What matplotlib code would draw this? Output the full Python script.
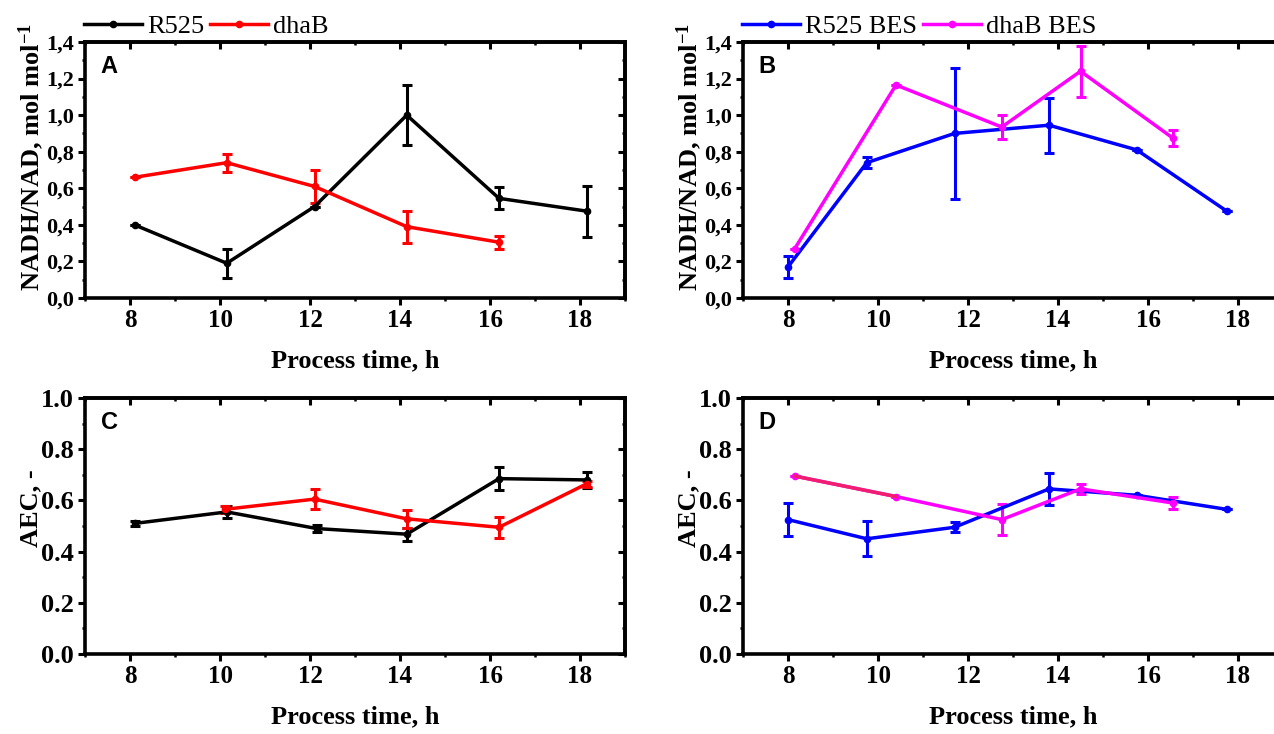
import matplotlib

matplotlib.use("Agg")
import matplotlib.pyplot as plt
from matplotlib.lines import Line2D
from matplotlib.ticker import MultipleLocator

plt.rcParams["font.family"] = "Liberation Serif"
plt.rcParams["font.weight"] = "bold"
plt.rcParams["mathtext.fontset"] = "custom"
plt.rcParams["mathtext.rm"] = "Liberation Serif:bold"
plt.rcParams["mathtext.default"] = "rm"

# NADH/NAD ratio, flask cultures
a_r525_t = [8.1, 10.15, 12.1, 14.15, 16.2, 18.15]
a_r525_y = [0.40, 0.19, 0.50, 1.00, 0.545, 0.475]
a_r525_e = [0.0, 0.078, 0.0, 0.163, 0.06, 0.14]
a_dhab_t = [8.1, 10.15, 12.1, 14.15, 16.2]
a_dhab_y = [0.66, 0.74, 0.61, 0.39, 0.305]
a_dhab_e = [0.0, 0.05, 0.088, 0.088, 0.035]

# NADH/NAD ratio, BES runs
b_r525_t = [8.0, 9.75, 11.7, 13.8, 15.75, 17.75]
b_r525_y = [0.17, 0.74, 0.90, 0.945, 0.81, 0.475]
b_r525_e = [0.06, 0.03, 0.36, 0.15, 0.0, 0.0]
b_dhab_t = [8.15, 10.4, 12.75, 14.5, 16.55]
b_dhab_y = [0.27, 1.165, 0.935, 1.24, 0.875]
b_dhab_e = [0.0, 0.0, 0.065, 0.14, 0.045]

# adenylate energy charge, flask cultures
c_r525_t = [8.1, 10.15, 12.15, 14.15, 16.2, 18.15]
c_r525_y = [0.51, 0.555, 0.49, 0.468, 0.685, 0.68]
c_r525_e = [0.01, 0.025, 0.015, 0.025, 0.045, 0.03]
c_dhab_t = [10.1, 12.1, 14.15, 16.2, 18.15]
c_dhab_y = [0.565, 0.605, 0.528, 0.495, 0.665]
c_dhab_e = [0.015, 0.04, 0.035, 0.04, 0.012]

# adenylate energy charge, BES runs
d_r525_t = [8.0, 9.75, 11.7, 13.8, 15.75, 17.75]
d_r525_y = [0.525, 0.45, 0.495, 0.645, 0.62, 0.565]
d_r525_e = [0.065, 0.068, 0.02, 0.062, 0.0, 0.0]
d_dhab_t = [8.15, 10.4, 12.75, 14.5, 16.55]
d_dhab_y = [0.695, 0.615, 0.525, 0.645, 0.59]
d_dhab_e = [0.0, 0.0, 0.06, 0.02, 0.025]

xticks = [8, 10, 12, 14, 16, 18]
ratio_ticks = [0.0, 0.2, 0.4, 0.6, 0.8, 1.0, 1.2, 1.4]
ratio_labels = ["0,0", "0,2", "0,4", "0,6", "0,8", "1,0", "1,2", "1,4"]
aec_ticks = [0.0, 0.2, 0.4, 0.6, 0.8, 1.0]
aec_labels = ["0.0", "0.2", "0.4", "0.6", "0.8", "1.0"]

W, H = 1274, 734
fig = plt.figure(figsize=(W / 100, H / 100), dpi=100)


def box(l, r, t, b):
    return [l / W, 1 - b / H, (r - l) / W, (b - t) / H]


axA = fig.add_axes(box(85, 625, 42, 298))
axB = fig.add_axes(box(743, 1283, 42, 298))
axC = fig.add_axes(box(85, 625, 398, 654))
axD = fig.add_axes(box(743, 1283, 398, 654))

LW = 2.5
MS = 4.5


def series(ax, t, y, e, color):
    ax.errorbar(t, y, yerr=e, color=color, lw=LW, marker="o", ms=MS,
                capsize=3.5, capthick=2.2, elinewidth=2.2)


def style(ax, letter, yt, yl, ylabel, ysize, ylab_size, ylab_y):
    ax.set_xlim(7, 19)
    ax.set_ylim(yt[0], yt[-1])
    ax.set_xticks(xticks)
    ax.set_xticklabels([str(v) for v in xticks], fontsize=18)
    ax.set_yticks(yt)
    ax.set_yticklabels(yl, fontsize=ysize)
    ax.xaxis.set_minor_locator(MultipleLocator(1))
    ax.yaxis.set_minor_locator(MultipleLocator(0.1))
    ax.tick_params(which="major", direction="out", length=5, width=2.2, pad=3)
    ax.tick_params(which="minor", direction="out", length=2.5, width=1.8)
    for s in ax.spines.values():
        s.set_linewidth(2.6)
    # mirrored ticks on top and right point inwards
    top = ax.secondary_xaxis("top")
    top.set_xticks(xticks)
    top.xaxis.set_minor_locator(MultipleLocator(1))
    top.tick_params(which="major", direction="in", length=5, width=2.2, labeltop=False)
    top.tick_params(which="minor", direction="in", length=2.5, width=1.8)
    top.spines["top"].set_linewidth(2.6)
    right = ax.secondary_yaxis("right")
    right.set_yticks(yt)
    right.yaxis.set_minor_locator(MultipleLocator(0.1))
    right.tick_params(which="major", direction="in", length=5, width=2.2, labelright=False)
    right.tick_params(which="minor", direction="in", length=2.5, width=1.8)
    right.spines["right"].set_linewidth(2.6)
    ax.set_xlabel("Process time, h", fontsize=19, fontweight="bold", va="top")
    ax.xaxis.set_label_coords(0.5, -0.2)
    ax.set_ylabel(ylabel, fontsize=ylab_size, fontweight="bold", va="center")
    ax.yaxis.set_label_coords(-0.1, ylab_y)
    ax.text(0.045, 0.905, letter, transform=ax.transAxes, family="Liberation Sans",
            fontsize=17, fontweight="bold", ha="center", va="center")


def legend(ax, names, colors):
    handles = [Line2D([], [], color=c, lw=LW, marker="o", ms=MS) for c in colors]
    ax.legend(handles, names, loc="lower left", bbox_to_anchor=(-0.002, 1.015), ncol=2,
              frameon=False, borderpad=0, borderaxespad=0, handlelength=2.2,
              handletextpad=0.2, columnspacing=0.2,
              prop={"family": "Liberation Serif", "size": 19, "weight": "normal"})


series(axA, a_r525_t, a_r525_y, a_r525_e, "black")
series(axA, a_dhab_t, a_dhab_y, a_dhab_e, "#ff0000")
series(axB, b_r525_t, b_r525_y, b_r525_e, "#0000ff")
series(axB, b_dhab_t, b_dhab_y, b_dhab_e, "#ff00ff")
series(axC, c_r525_t, c_r525_y, c_r525_e, "black")
series(axC, c_dhab_t, c_dhab_y, c_dhab_e, "#ff0000")
series(axD, d_r525_t, d_r525_y, d_r525_e, "#0000ff")
series(axD, d_dhab_t, d_dhab_y, d_dhab_e, "#ff00ff")
# first dhaB BES segment in D is drawn in a redder tone
axD.plot(d_dhab_t[:2], d_dhab_y[:2], color="#f01f6e", lw=LW, zorder=3)

ratio_label = "NADH/NAD, mol mol$^{-1}$"
style(axA, "A", ratio_ticks, ratio_labels, ratio_label, 16, 19, 0.55)
style(axB, "B", ratio_ticks, ratio_labels, ratio_label, 16, 19, 0.55)
style(axC, "C", aec_ticks, aec_labels, "AEC, -", 19, 19, 0.57)
style(axD, "D", aec_ticks, aec_labels, "AEC, -", 19, 19, 0.57)

legend(axA, ["R525", "dhaB"], ["black", "#ff0000"])
legend(axB, ["R525 BES", "dhaB BES"], ["#0000ff", "#ff00ff"])

fig.savefig("out.png", dpi=100)
